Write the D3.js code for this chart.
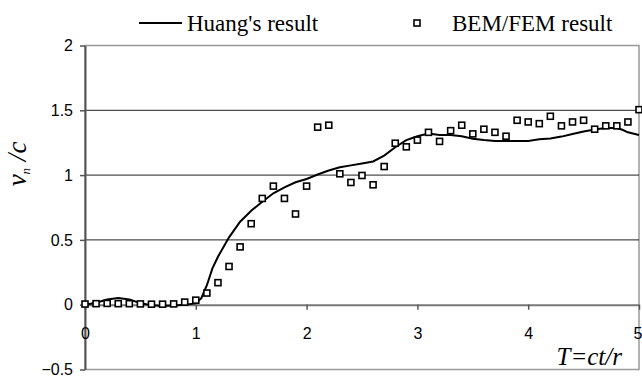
<!DOCTYPE html>
<html>
<head>
<meta charset="utf-8">
<script src="https://cdn.jsdelivr.net/npm/d3@7"></script>
<style>
    body { margin: 0; background: #fff; }
    svg { display: block; }
</style>
</head>
<body>
<svg id="chart" width="642" height="379"></svg>
<script>
// Huang's result (solid line)
const huangT = [0, 0.1, 0.2, 0.3, 0.4, 0.5, 0.6, 0.7, 0.8, 0.9, 1.0, 1.05, 1.1, 1.15, 1.2, 1.3, 1.4, 1.5,
    1.6, 1.7, 1.8, 1.9, 2.0, 2.1, 2.2, 2.3, 2.4, 2.5, 2.6, 2.7, 2.8, 2.9, 3.0, 3.1, 3.2, 3.3, 3.4, 3.5,
    3.6, 3.7, 3.8, 3.9, 4.0, 4.1, 4.2, 4.3, 4.4, 4.5, 4.6, 4.7, 4.8, 4.85, 4.9, 5.0];
const huangV = [0, 0.015, 0.04, 0.052, 0.04, 0.012, -0.005, -0.01, -0.006, 0, 0.01, 0.05, 0.15, 0.28, 0.37,
    0.52, 0.64, 0.725, 0.795, 0.86, 0.905, 0.945, 0.97, 1.005, 1.035, 1.06, 1.075, 1.09, 1.105, 1.15,
    1.215, 1.27, 1.3, 1.32, 1.31, 1.31, 1.3, 1.28, 1.27, 1.264, 1.264, 1.264, 1.264, 1.277, 1.282,
    1.297, 1.317, 1.337, 1.352, 1.363, 1.363, 1.35, 1.33, 1.31];

// BEM/FEM result (square markers)
const bemT = [0, 0.1, 0.2, 0.3, 0.4, 0.5, 0.6, 0.7, 0.8, 0.9, 1.0, 1.1, 1.2, 1.3, 1.4, 1.5, 1.6, 1.7,
    1.8, 1.9, 2.0, 2.1, 2.2, 2.3, 2.4, 2.5, 2.6, 2.7, 2.8, 2.9, 3.0, 3.1, 3.2, 3.3, 3.4, 3.5, 3.6, 3.7,
    3.8, 3.9, 4.0, 4.1, 4.2, 4.3, 4.4, 4.5, 4.6, 4.7, 4.8, 4.9, 5.0];
const bemV = [0.005, 0.008, 0.01, 0.008, 0.008, 0.006, 0.004, 0.004, 0.006, 0.02, 0.035, 0.09, 0.17, 0.295,
    0.446, 0.625, 0.82, 0.915, 0.82, 0.70, 0.915, 1.37, 1.385, 1.01, 0.943, 0.997, 0.925, 1.066,
    1.246, 1.218, 1.27, 1.33, 1.26, 1.343, 1.385, 1.318, 1.354, 1.33, 1.30, 1.423, 1.41, 1.397,
    1.454, 1.38, 1.41, 1.423, 1.354, 1.38, 1.38, 1.41, 1.505];

const xTicks = [0, 1, 2, 3, 4, 5];
const yTicks = [-0.5, 0, 0.5, 1, 1.5, 2];
const gridValues = [0.5, 1, 1.5];

const svg = d3.select("#chart");

const x = d3.scaleLinear().domain([0, 5]).range([85, 639]);
const y = d3.scaleLinear().domain([-0.5, 2]).range([369.5, 45.5]);

const serif = "'Liberation Serif', 'Times New Roman', serif";
const sans = "'Liberation Sans', Arial, sans-serif";

// plot area border (grey)
svg.append("rect")
    .attr("x", x(0))
    .attr("y", y(2))
    .attr("width", x(5) - x(0))
    .attr("height", y(-0.5) - y(2))
    .attr("fill", "none")
    .attr("stroke", "#999")
    .attr("stroke-width", 1.5);

// gridlines
svg.append("g")
    .selectAll("line")
    .data(gridValues)
    .join("line")
    .attr("x1", x(0))
    .attr("x2", x(5))
    .attr("y1", d => y(d))
    .attr("y2", d => y(d))
    .attr("stroke", "#222")
    .attr("stroke-width", 1);

// y axis
const yAxis = svg.append("g")
    .attr("transform", `translate(${x(0)},0)`)
    .call(d3.axisLeft(y).tickValues(yTicks).tickSize(5).tickSizeOuter(0)
        .tickFormat(d => d === 0 ? "0" : d3.format("")(d)));
yAxis.select(".domain").attr("stroke", "#555").attr("stroke-width", 2);
yAxis.selectAll(".tick line").attr("stroke", "#555").attr("stroke-width", 1.5);
yAxis.selectAll(".tick text")
    .attr("x", -12)
    .attr("font-family", sans)
    .attr("font-size", 16)
    .attr("fill", "#000");

// x axis at y = 0
const xAxis = svg.append("g")
    .attr("transform", `translate(0,${y(0)})`)
    .call(d3.axisBottom(x).tickValues(xTicks).tickSize(5).tickSizeOuter(0).tickFormat(d3.format("d")));
xAxis.select(".domain").attr("stroke", "#777").attr("stroke-width", 2);
xAxis.selectAll(".tick line").attr("stroke", "#555").attr("stroke-width", 1.5);
xAxis.selectAll(".tick text")
    .attr("y", 23)
    .attr("font-family", sans)
    .attr("font-size", 16)
    .attr("fill", "#000");
// last label sits on the right edge, keep it inside the picture
xAxis.selectAll(".tick text")
    .filter(d => d === 5)
    .attr("text-anchor", "end")
    .attr("x", 3);

// Huang's line
const line = d3.line()
    .x((d, i) => x(huangT[i]))
    .y(d => y(d));

svg.append("path")
    .attr("d", line(huangV))
    .attr("fill", "none")
    .attr("stroke", "#000")
    .attr("stroke-width", 2);

// BEM/FEM squares
const s = 6;
svg.append("g")
    .selectAll("rect")
    .data(bemV)
    .join("rect")
    .attr("x", (d, i) => x(bemT[i]) - s / 2)
    .attr("y", d => y(d) - s / 2)
    .attr("width", s)
    .attr("height", s)
    .attr("fill", "#fff")
    .attr("stroke", "#000")
    .attr("stroke-width", 1.6);

// axis titles
svg.append("text")
    .attr("x", 622)
    .attr("y", 365)
    .attr("text-anchor", "end")
    .attr("font-family", serif)
    .attr("font-style", "italic")
    .attr("font-size", 25)
    .text("T=ct/r");

const yTitle = svg.append("text")
    .attr("transform", "translate(26,164) rotate(-90)")
    .attr("text-anchor", "middle")
    .attr("font-family", serif)
    .attr("font-style", "italic")
    .attr("font-size", 27);
yTitle.append("tspan").text("v");
yTitle.append("tspan").attr("font-size", 13).attr("dy", 4).text("n");
yTitle.append("tspan").attr("dy", -4).text(" /c");

// legend
svg.append("line")
    .attr("x1", 139).attr("x2", 182)
    .attr("y1", 23).attr("y2", 23)
    .attr("stroke", "#000")
    .attr("stroke-width", 2);
svg.append("text")
    .attr("x", 187).attr("y", 31)
    .attr("font-family", serif)
    .attr("font-size", 23)
    .text("Huang's result");

svg.append("rect")
    .attr("x", 414).attr("y", 20)
    .attr("width", s).attr("height", s)
    .attr("fill", "#fff")
    .attr("stroke", "#000")
    .attr("stroke-width", 1.6);
svg.append("text")
    .attr("x", 452).attr("y", 31)
    .attr("font-family", serif)
    .attr("font-size", 23)
    .text("BEM/FEM result");
</script>
</body>
</html>
